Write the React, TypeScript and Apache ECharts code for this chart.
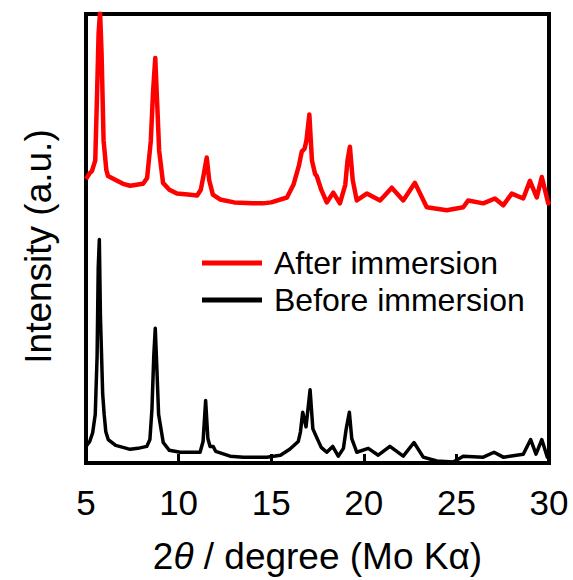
import React, { useEffect, useRef } from "react";
import * as echarts from "echarts";

const xTicks = [5, 10, 15, 20, 25, 30];
const seriesNames = ["After immersion", "Before immersion"];

const afterDeg = [5.0, 5.2, 5.32, 5.5, 5.6, 5.68, 5.76, 5.84, 5.95, 6.1, 6.19, 6.6, 7.0, 7.38, 8.08, 8.3, 8.5, 8.62, 8.74, 8.84, 8.95, 9.16, 9.5, 9.91, 10.5, 11.0, 11.2, 11.35, 11.52, 11.65, 11.85, 12.24, 13.0, 14.0, 14.56, 15.0, 15.85, 16.2, 16.5, 16.65, 16.8, 16.9, 17.06, 17.2, 17.37, 17.46, 17.7, 18.0, 18.35, 18.71, 19.0, 19.12, 19.25, 19.4, 19.62, 20.16, 20.88, 21.51, 22.13, 22.76, 23.4, 24.48, 25.37, 25.64, 26.45, 27.08, 27.53, 27.99, 28.61, 28.97, 29.34, 29.61, 29.96, 30.0];
const afterInt = [291, 297, 299, 310, 380, 440, 462, 420, 330, 300, 294, 290, 286, 284, 286, 292, 330, 380, 415, 370, 320, 287, 280, 276, 275, 274, 280, 295, 313, 290, 275, 270, 267, 266, 266, 267, 272, 285, 305, 319, 322, 330, 357, 310, 296, 294, 280, 267, 277, 266, 285, 310, 324, 290, 269, 276, 269, 282, 269, 287, 262, 259, 262, 269, 266, 271, 264, 276, 271, 289, 272, 293, 266, 268];

const beforeDeg = [5.0, 5.2, 5.36, 5.5, 5.6, 5.66, 5.72, 5.78, 5.9, 5.98, 6.07, 6.2, 6.6, 7.0, 7.38, 7.8, 8.28, 8.45, 8.56, 8.66, 8.74, 8.82, 8.92, 9.17, 9.5, 10.08, 10.5, 11.16, 11.32, 11.46, 11.58, 11.7, 11.87, 12.0, 12.78, 13.5, 14.76, 15.5, 16.0, 16.46, 16.58, 16.7, 16.88, 17.1, 17.25, 17.46, 17.7, 18.0, 18.32, 18.62, 18.9, 19.05, 19.22, 19.35, 19.62, 20.24, 20.78, 21.41, 22.13, 22.71, 23.21, 23.94, 24.83, 25.37, 26.45, 27.03, 27.53, 28.61, 29.01, 29.3, 29.61, 29.91, 30.0];
const beforeInt = [17, 22, 31, 50, 110, 200, 229, 150, 71, 50, 32, 24, 18, 16, 14, 15, 17, 24, 55, 110, 138, 100, 50, 21, 13, 11, 11, 11, 22, 64, 25, 17, 17, 12, 7, 6, 6, 8, 14, 22, 32, 52, 37, 75, 35, 26, 16, 11, 17, 7, 15, 35, 52, 25, 11, 15, 8, 17, 7, 21, 6, 2, 1, 7, 6, 11, 6, 9, 24, 9, 24, 6, 8];

const yMin = 0;
const yMax = 460;

const toPairs = (xs: number[], ys: number[]) => xs.map((x, i) => [x, ys[i]]);

export default function App() {
  const ref = useRef<HTMLDivElement>(null);
  useEffect(() => {
    if (!ref.current) return;
    const chart = echarts.init(ref.current, undefined, { renderer: "svg" });
    const font = "Liberation Sans, Arial, sans-serif";
    chart.setOption({
      animation: false,
      backgroundColor: "#fff",
      grid: {
        left: 86,
        right: 24,
        top: 14,
        bottom: 106,
        show: true,
        borderColor: "#000",
        borderWidth: 4,
      },
      legend: {
        data: seriesNames,
        orient: "vertical",
        left: 197,
        top: 242,
        icon: "rect",
        itemWidth: 60,
        itemHeight: 5,
        itemGap: 5,
        textStyle: { fontSize: 32, fontFamily: font, color: "#000", lineHeight: 32, padding: [0, 0, 0, 7] },
      },
      xAxis: {
        type: "value",
        min: xTicks[0],
        max: xTicks[xTicks.length - 1],
        interval: 5,
        name: "2{i|θ} / degree (Mo Kα)",
        nameLocation: "middle",
        nameGap: 75,
        nameTextStyle: {
          fontSize: 37,
          fontFamily: font,
          color: "#000",
          rich: { i: { fontStyle: "italic", fontSize: 37, fontFamily: font, color: "#000" } },
        },
        axisLine: { show: true, lineStyle: { color: "#000", width: 4 } },
        axisTick: { show: true, inside: true, length: 9, lineStyle: { color: "#000", width: 3 } },
        axisLabel: { fontSize: 35, fontFamily: font, color: "#000", margin: 22 },
        splitLine: { show: false },
      },
      yAxis: {
        type: "value",
        min: yMin,
        max: yMax,
        name: "Intensity (a.u.)",
        nameLocation: "middle",
        nameGap: 29,
        nameTextStyle: { fontSize: 37, fontFamily: font, color: "#000", padding: [0, 16, 0, 0] },
        axisLine: { show: true, lineStyle: { color: "#000", width: 4 } },
        axisTick: { show: false },
        axisLabel: { show: false },
        splitLine: { show: false },
      },
      series: [
        {
          name: seriesNames[0],
          type: "line",
          data: toPairs(afterDeg, afterInt),
          showSymbol: false,
          symbol: "none",
          color: "#ff0000",
          lineStyle: { color: "#ff0000", width: 4.5, join: "round" },
          z: 2,
        },
        {
          name: seriesNames[1],
          type: "line",
          data: toPairs(beforeDeg, beforeInt),
          showSymbol: false,
          symbol: "none",
          color: "#000000",
          lineStyle: { color: "#000000", width: 3.5, join: "round" },
          z: 2,
        },
      ],
    });
    return () => chart.dispose();
  }, []);
  return <div ref={ref} style={{ width: 573, height: 580, position: "absolute", left: 0, top: 0 }} />;
}
